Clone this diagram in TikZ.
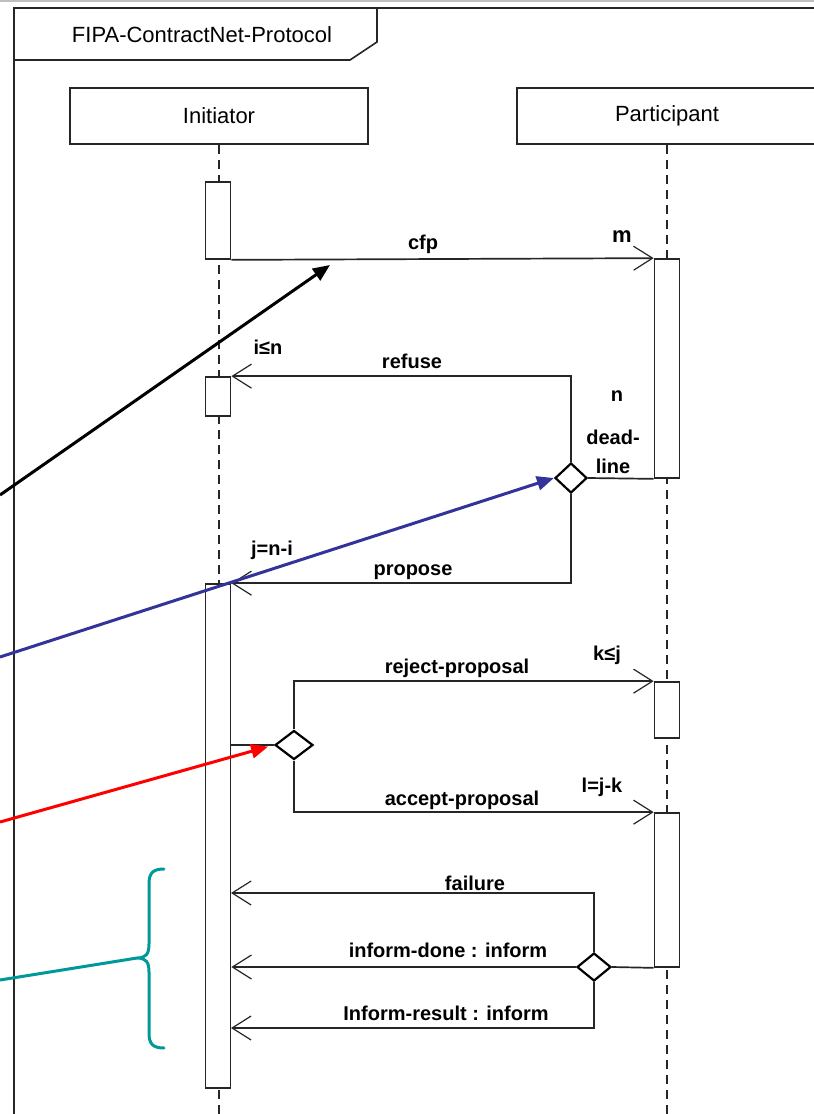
\documentclass[tikz,border=0pt]{standalone}
\usepackage{fontspec}
\setmainfont{Liberation Sans}
\usetikzlibrary{arrows.meta,shapes.geometric}
\definecolor{noteblue}{RGB}{51,51,153}
\definecolor{notered}{RGB}{255,0,0}
\definecolor{noteteal}{RGB}{0,153,153}
\begin{document}
\begin{tikzpicture}[x=1pt,y=-1pt,
  framel/.style={draw=black!85, line width=1.6pt},
  headbox/.style={draw=black!85, line width=1.8pt, minimum width=298pt, minimum height=56pt, inner sep=0pt, font=\fontsize{22}{26}\selectfont},
  lifeline/.style={draw=black!85, line width=1.4pt, dash pattern=on 9pt off 6pt},
  actbar/.style={draw=black!85, fill=white, line width=1.7pt, minimum width=25pt, inner sep=0pt},
  msg/.style={draw=black!85, line width=1.7pt, -{Straight Barb[length=19pt,width=24pt,line width=1.2pt]}},
  wire/.style={draw=black!85, line width=1.7pt},
  choice/.style={diamond, draw=black, line width=2.2pt, fill=white, inner sep=0pt},
  lbl/.style={font=\bfseries\fontsize{20}{29}\selectfont, inner sep=0pt, align=center},
  note/.style={line width=3pt, -{Triangle[length=17pt,width=14pt]}},
]
\useasboundingbox (0,0) rectangle (814,1114);
\fill[white] (0,0) rectangle (814,1114);
\clip (0,0) rectangle (814,1114);

% top gray line
\draw[black!25, line width=2pt] (0,1) -- (814,1);

% frame
\draw[framel] (14,1114) -- (14,8) -- (814,8);
\draw[framel] (14,60) -- (350,60) -- (377,42) -- (377,8);
\node[font=\fontsize{22}{26}\selectfont, inner sep=0pt] (title) at (202,35) {FIPA-ContractNet-Protocol};

% lifeline heads
\node[headbox] (init) at (219,116) {Initiator};
\node[headbox, minimum width=300pt] (part) at (667,116) {Participant};
\coordinate (ibot) at (219,1114);
\coordinate (pbot) at (667,1114);
\draw[lifeline] (init.south) -- (ibot);
\draw[lifeline] (part.south) -- (pbot);

% activation bars
\node[actbar, minimum height=77pt]  (ia1) at (218,220.5) {};
\node[actbar, minimum height=39pt]  (ia2) at (218,396.5) {};
\node[actbar, minimum height=504pt] (ia3) at (218,836) {};
\node[actbar, minimum height=219pt] (pa1) at (667,368.5) {};
\node[actbar, minimum height=56pt]  (pa2) at (667,710) {};
\node[actbar, minimum height=154pt] (pa3) at (667,890) {};

% choice diamonds
\node[choice, minimum width=32pt, minimum height=30pt] (dl) at (571,478) {};
\node[choice, minimum width=38pt, minimum height=29pt] (d2) at (294,745) {};
\node[choice, minimum width=34pt, minimum height=28pt] (d3) at (594,967) {};

% messages
\draw[msg] (ia1.south east) -- (pa1.north west);
\draw[wire] (dl.east) -- (pa1.south west);
\draw[msg] (dl.north) |- (ia2.north east);
\draw[msg] (dl.south) |- (ia3.north east);
\draw[wire] (ia3.east |- d2.west) -- (d2.west);
\draw[msg] (d2.north) |- (pa2.north west);
\draw[msg] (d2.south) |- (pa3.north west);
\draw[wire] (pa3.south west) -- (d3.east);
\coordinate (failend) at (231,893);
\coordinate (resend) at (231,1028);
\draw[msg] (d3.north) |- (failend);
\draw[msg] (d3.west) -- (d3.west -| ia3.east);
\draw[msg] (d3.south) |- (resend);

% labels
\node[lbl] (lcfp) at (423,244) {cfp};
\node[lbl, font=\bfseries\fontsize{22}{26}\selectfont] (lm) at (622,237) {m};
\node[lbl] (lrefuse) at (412,361) {refuse};
\node[lbl] (lin) at (268,347) {i≤n};
\node[lbl] (ln) at (617,396) {n};
\node[lbl] (ldead) at (613,452) {dead-\\line};
\node[lbl] (ljni) at (272,550) {j=n-i};
\node[lbl] (lprop) at (413,572) {propose};
\node[lbl] (lkj) at (607,655) {k≤j};
\node[lbl] (lrej) at (457,668) {reject-proposal};
\node[lbl] (lljk) at (602,787) {l=j-k};
\node[lbl] (lacc) at (462,800) {accept-proposal};
\node[lbl] (lfail) at (475,883) {failure};
\node[lbl] (ldone) at (448,950) {inform-done : inform};
\node[lbl] (lres) at (446,1013) {Inform-result : inform};

% annotation arrows
\coordinate (bstart) at (0,495);
\coordinate (bend) at (330,265);
\draw[note, black] (bstart) -- (bend);
\coordinate (blstart) at (0,657);
\draw[note, noteblue] (blstart) -- (dl.west);
\coordinate (rstart) at (0,822);
\draw[note, notered, shorten >=6pt] (rstart) -- (d2.west);

% teal brace
\coordinate (cusp) at (137,958);
\coordinate (tstart) at (0,980);
\draw[noteteal, line width=3pt, line cap=round]
  (164,869) .. controls (153,869) and (149,873) .. (149,884) -- (149,944)
  .. controls (149,954) and (146,958) .. (cusp)
  .. controls (146,958) and (149,962) .. (149,972) -- (149,1033)
  .. controls (149,1044) and (153,1048) .. (164,1048);
\draw[noteteal, line width=3pt] (cusp) -- (tstart);
\end{tikzpicture}
\end{document}
